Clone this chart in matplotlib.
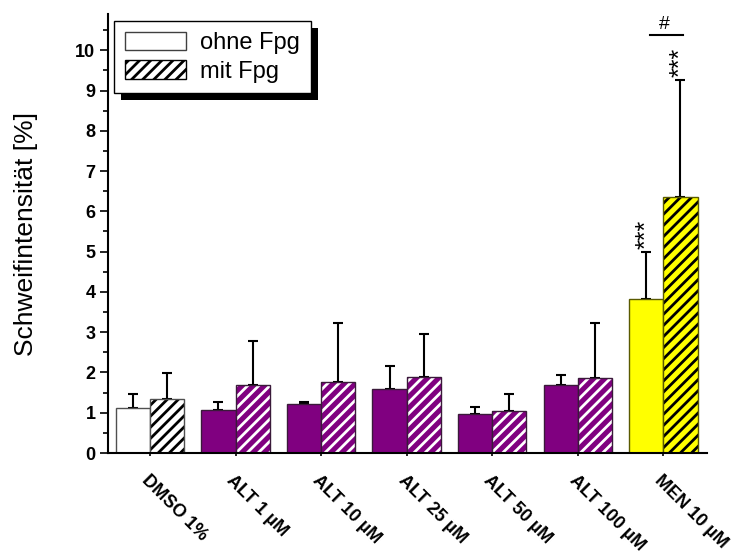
import numpy as np
import matplotlib
matplotlib.use("Agg")
import matplotlib.pyplot as plt
from matplotlib.patches import Patch, Rectangle
from matplotlib.transforms import IdentityTransform
from matplotlib.ticker import MultipleLocator

# data
groups = ["DMSO 1%", "ALT 1 µM", "ALT 10 µM", "ALT 25 µM", "ALT 50 µM", "ALT 100 µM", "MEN 10 µM"]
ohne_mean = [1.12, 1.08, 1.22, 1.59, 0.97, 1.70, 3.82]
ohne_err = [0.35, 0.18, 0.05, 0.57, 0.18, 0.24, 1.17]
mit_mean = [1.34, 1.68, 1.77, 1.89, 1.05, 1.85, 6.36]
mit_err = [0.64, 1.10, 1.45, 1.07, 0.42, 1.39, 2.90]
ohne_sig = ["", "", "", "", "", "", "***"]
mit_sig = ["", "", "", "", "", "", "***"]
hash_group = 6

face = ["white"] + ["#800080"] * 5 + ["#ffff00"]
hatch_col = ["black"] + ["white"] * 5 + ["black"]
edge = ["#505050"] + ["#3a1a3a"] * 5 + ["#5a5a00"]

plt.rcParams["font.family"] = ["Liberation Sans", "DejaVu Sans"]
plt.rcParams["hatch.linewidth"] = 2.0

fig = plt.figure(figsize=(7.4, 5.53), dpi=100)
ax = fig.add_axes([108 / 740, 1 - 453 / 553, 599 / 740, 439 / 553])

x = np.arange(len(groups))
w = 0.4

# plain bars
ax.bar(x - w / 2, ohne_mean, w, color=face, edgecolor=edge, linewidth=1.0, zorder=2)
# hatched bars: hatch layer then outline
ax.bar(x + w / 2, mit_mean, w, color=face, edgecolor=hatch_col, hatch="///", linewidth=0, zorder=2)
ax.bar(x + w / 2, mit_mean, w, fill=False, edgecolor=edge, linewidth=1.0, zorder=2.1)

# upper error bars only
ax.errorbar(x - w / 2, ohne_mean, yerr=[np.zeros(len(x)), ohne_err], fmt="none",
            ecolor="black", elinewidth=1.5, capsize=3.6, capthick=1.5, zorder=1.5)
ax.errorbar(x + w / 2, mit_mean, yerr=[np.zeros(len(x)), mit_err], fmt="none",
            ecolor="black", elinewidth=1.5, capsize=3.6, capthick=1.5, zorder=1.5)

# significance marks
for i in range(len(x)):
    if ohne_sig[i]:
        ax.text(x[i] - w / 2, ohne_mean[i] + ohne_err[i] + 0.08, ohne_sig[i], rotation=90,
                ha="center", va="bottom", fontsize=18)
    if mit_sig[i]:
        ax.text(x[i] + w / 2, mit_mean[i] + mit_err[i] + 0.08, mit_sig[i], rotation=90,
                ha="center", va="bottom", fontsize=18)

top = mit_mean[hash_group] + mit_err[hash_group] + 1.12
ax.plot([hash_group - 0.16, hash_group + 0.23], [top, top], color="black", lw=1.5, clip_on=False)
ax.text(hash_group + 0.01, top + 0.06, "#", ha="center", va="bottom", fontsize=14)

ax.set_xlim(-0.49, 6.51)
ax.set_ylim(0, 10.9)
ax.yaxis.set_major_locator(MultipleLocator(1))
ax.yaxis.set_minor_locator(MultipleLocator(0.5))
ax.set_yticks(range(0, 11))
ax.set_xticks(x)
ax.set_xticklabels(groups, rotation=-45, ha="left", va="top", rotation_mode="anchor",
                   fontsize=13, fontweight="bold")
for lab in ax.get_yticklabels():
    lab.set_fontweight("bold")
ax.tick_params(axis="y", which="major", length=6, width=1.2, labelsize=13, pad=3)
ax.tick_params(axis="y", which="minor", length=3.5, width=1.2)
ax.tick_params(axis="x", which="major", length=2.5, width=1.2, pad=11)

for s in ["top", "right"]:
    ax.spines[s].set_visible(False)
for s in ["left", "bottom"]:
    ax.spines[s].set_linewidth(1.5)

ax.set_ylabel("Schweifintensität [%]", fontsize=19, labelpad=27)

handles = [Patch(facecolor="white", edgecolor="#404040", linewidth=1.0),
           Patch(facecolor="white", edgecolor="black", hatch="///", linewidth=1.0)]
leg = ax.legend(handles, ["ohne Fpg", "mit Fpg"], loc="upper left",
                bbox_to_anchor=(0.01, 0.984), borderaxespad=0, fancybox=False,
                framealpha=1, edgecolor="black", fontsize=17, handlelength=2.6,
                handleheight=0.85, handletextpad=0.6, labelspacing=0.25,
                borderpad=0.45)
leg.get_frame().set_linewidth(1.0)

# hard black drop shadow behind the legend
fig.canvas.draw()
bb = leg.get_window_extent()
ax.add_patch(Rectangle((bb.x0 + 7, bb.y0 - 7), bb.width, bb.height, transform=IdentityTransform(),
                       facecolor="black", edgecolor="none", zorder=4.5, clip_on=False))

fig.savefig("out.png", dpi=100)
